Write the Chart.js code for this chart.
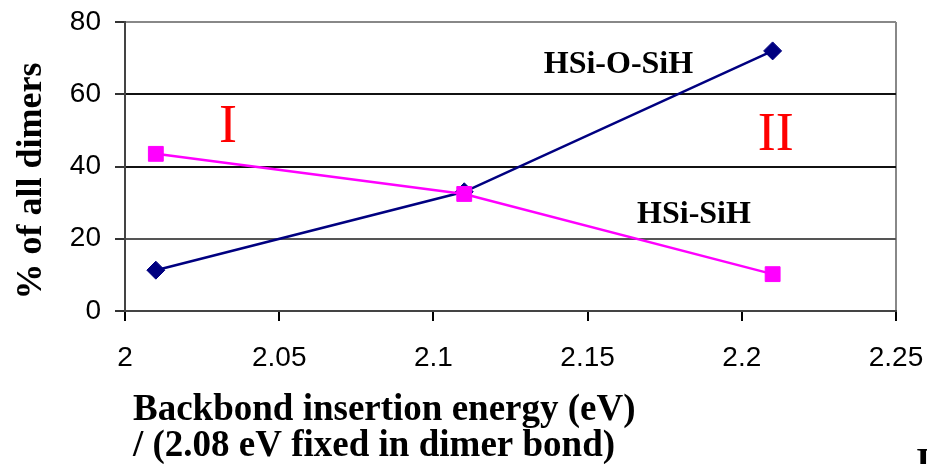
<!DOCTYPE html>
<html>
<head>
<meta charset="utf-8">
<script src="https://cdn.jsdelivr.net/npm/chart.js@4.4.1/dist/chart.umd.min.js"></script>
<style>
  html, body { margin: 0; padding: 0; background: #fff; }
  #wrap { width: 927px; height: 464px; }
</style>
</head>
<body>
<div id="wrap"><canvas id="dimerChart" width="927" height="464"></canvas></div>
<script>
// energies (eV) and dimer fractions (%)
const energies = [2.01, 2.11, 2.21];
const oxidized = [11.3, 33.0, 72.0];   // HSi-O-SiH
const bare = [43.5, 32.4, 10.2];       // HSi-SiH
const xTicks = ['2', '2.05', '2.1', '2.15', '2.2', '2.25'];
const yTicks = ['0', '20', '40', '60', '80'];

const serif = "'Liberation Serif', 'Times New Roman', serif";
const sans = "'Liberation Sans', Arial, sans-serif";

// text labels drawn on top of the plot, anchored in data coordinates
const notes = [
    { text: 'HSi-O-SiH', x: 2.16, y: 65.9, font: 'bold 32px ' + serif, color: '#000' },
    { text: 'HSi-SiH', x: 2.1845, y: 24.4, font: 'bold 32px ' + serif, color: '#000' },
    { text: 'I', x: 2.0334, y: 46.8, font: '54px ' + serif, color: '#ff0000' },
    { text: 'II', x: 2.211, y: 44.6, font: '54px ' + serif, color: '#ff0000' }
];

const textPlugin = {
    id: 'textPlugin',
    afterDraw(chart) {
        const c = chart.ctx;
        const xs = chart.scales.x, ys = chart.scales.y;
        c.save();
        c.textBaseline = 'alphabetic';
        c.textAlign = 'center';
        notes.forEach(n => {
            c.font = n.font;
            c.fillStyle = n.color;
            c.fillText(n.text, xs.getPixelForValue(n.x), ys.getPixelForValue(n.y));
        });

        // axis titles
        c.fillStyle = '#000';
        c.font = 'bold 37px ' + serif;
        c.textAlign = 'left';
        c.fillText('Backbond insertion energy (eV)', 133, 420);
        c.fillText('/ (2.08 eV fixed in dimer bond)', 133, 456);
        c.fillText('I', 916, 474);

        c.translate(41, 181);
        c.rotate(-Math.PI / 2);
        c.textAlign = 'center';
        c.font = 'bold 36px ' + serif;
        c.fillText('% of all dimers', 0, 0);
        c.restore();
    }
};

const ctx = document.getElementById('dimerChart').getContext('2d');
new Chart(ctx, {
    type: 'line',
    data: {
        datasets: [{
            label: 'HSi-SiH',
            data: energies.map((e, i) => ({ x: e, y: bare[i] })),
            borderColor: '#ff00ff',
            backgroundColor: '#ff00ff',
            borderWidth: 2.5,
            pointStyle: 'rect',
            pointRadius: 10.5,
            pointBorderWidth: 1,
            tension: 0
        }, {
            label: 'HSi-O-SiH',
            data: energies.map((e, i) => ({ x: e, y: oxidized[i] })),
            borderColor: '#000080',
            backgroundColor: '#000080',
            borderWidth: 2.5,
            pointStyle: 'rectRot',
            pointRadius: 9,
            pointBorderWidth: 1,
            tension: 0
        }]
    },
    options: {
        responsive: false,
        animation: false,
        layout: { padding: { top: 22, right: 31, left: 0, bottom: 0 } },
        plugins: {
            legend: { display: false },
            tooltip: { enabled: false }
        },
        scales: {
            x: {
                type: 'linear',
                min: 2,
                max: 2.25,
                afterFit: s => {
                    s.height = 153;
                    s.paddingLeft = 0;
                    s.paddingRight = 0;
                },
                afterBuildTicks: s => {
                    s.ticks = xTicks.map(t => ({ value: parseFloat(t) }));
                },
                ticks: {
                    padding: 20,
                    color: '#000',
                    font: { family: sans, size: 28 },
                    callback: (v, i) => xTicks[i]
                },
                grid: {
                    color: c => (c.tick && c.tick.value === 2.25) ? '#888' : 'transparent',
                    tickColor: '#000',
                    tickLength: 10,
                    lineWidth: 2
                },
                border: { color: '#444', width: 2 }
            },
            y: {
                min: 0,
                max: 80,
                afterFit: s => {
                    s.width = 125;
                    s.paddingTop = 0;
                    s.paddingBottom = 0;
                },
                afterBuildTicks: s => {
                    s.ticks = yTicks.map(t => ({ value: parseFloat(t) }));
                },
                ticks: {
                    padding: 14,
                    color: '#000',
                    font: { family: sans, size: 28 },
                    callback: (v, i) => yTicks[i]
                },
                grid: {
                    color: c => {
                        const v = c.tick ? c.tick.value : -1;
                        if (v === 80) return '#888';
                        if (v === 20) return '#555';
                        if (v === 0) return 'transparent';
                        return '#111';
                    },
                    lineWidth: 2,
                    tickColor: '#333',
                    tickLength: 10
                },
                border: { color: '#444', width: 2 }
            }
        }
    },
    plugins: [textPlugin]
});
</script>
</body>
</html>
